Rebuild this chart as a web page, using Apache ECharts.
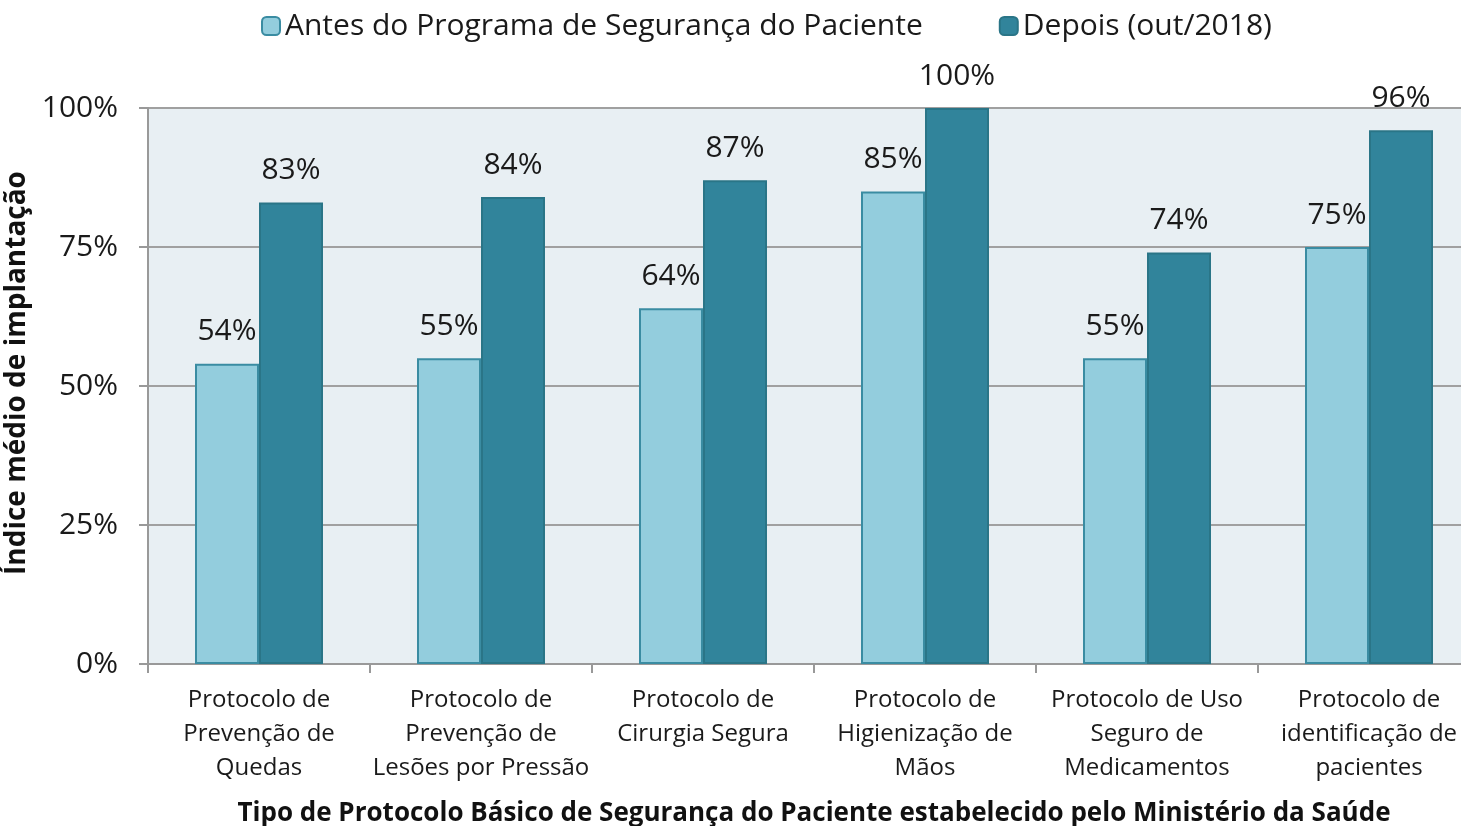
<!DOCTYPE html>
<html>
<head>
<meta charset="UTF-8">
<title>Protocolos de Segurança do Paciente</title>
<script src="https://cdn.jsdelivr.net/npm/echarts@6/dist/echarts.min.js"></script>
<style>
  body { margin: 0; background: #fff; }
  #chart { width: 1461px; height: 826px; }
</style>
</head>
<body>
<div id="chart"></div>
<script>
var categories = [
  'Protocolo de\nPrevenção de\nQuedas',
  'Protocolo de\nPrevenção de\nLesões por Pressão',
  'Protocolo de\nCirurgia Segura',
  'Protocolo de\nHigienização de\nMãos',
  'Protocolo de Uso\nSeguro de\nMedicamentos',
  'Protocolo de\nidentificação de\npacientes'
];
var antes = [54, 55, 64, 85, 55, 75];
var depois = [83, 84, 87, 100, 74, 96];
var seriesNames = ['Antes do Programa de Segurança do Paciente', 'Depois (out/2018)'];

var font = 'Open Sans';
var chart = echarts.init(document.getElementById('chart'));

function labelStyle() {
  return {
    show: true,
    position: 'top',
    distance: 17,
    formatter: '{c}%',
    color: '#1a1a1a',
    fontFamily: font,
    fontSize: 30
  };
}

chart.setOption({
  backgroundColor: '#ffffff',
  animation: false,
  legend: {
    top: 6,
    left: 256,
    itemWidth: 18,
    itemHeight: 18,
    itemGap: 76,
    textStyle: { fontFamily: font, fontSize: 30, color: '#1a1a1a' },
    data: seriesNames
  },
  grid: {
    left: 148,
    right: -19,
    top: 108,
    bottom: 162,
    outerBoundsMode: 'none',
    containLabel: false,
    show: true,
    backgroundColor: '#e8eff3',
    borderWidth: 0
  },
  xAxis: {
    type: 'category',
    data: categories,
    name: 'Tipo de Protocolo Básico de Segurança do Paciente estabelecido pelo Ministério da Saúde',
    nameLocation: 'middle',
    nameGap: 137,
    nameTextStyle: { fontFamily: font, fontSize: 26, fontWeight: 'bold', color: '#111' },
    axisLine: { lineStyle: { color: '#999999', width: 2 } },
    axisTick: { show: true, alignWithLabel: false, length: 9, lineStyle: { color: '#999999', width: 2 } },
    axisLabel: {
      interval: 0,
      margin: 19,
      lineHeight: 34,
      fontFamily: font,
      fontSize: 24,
      color: '#1a1a1a'
    }
  },
  yAxis: {
    type: 'value',
    min: 0,
    max: 100,
    interval: 25,
    name: 'Índice médio de implantação',
    nameLocation: 'middle',
    nameGap: 112,
    nameTextStyle: { fontFamily: font, fontSize: 28, fontWeight: 'bold', color: '#111', padding: [0, 0, 0, 26] },
    axisLine: { show: true, lineStyle: { color: '#999999', width: 2 } },
    axisTick: { show: true, length: 9, lineStyle: { color: '#999999', width: 2 } },
    axisLabel: {
      formatter: '{value}%',
      margin: 30,
      fontFamily: font,
      fontSize: 30,
      color: '#1a1a1a'
    },
    splitLine: { lineStyle: { color: '#a0a0a0', width: 2 } }
  },
  series: [
    {
      name: seriesNames[0],
      type: 'bar',
      data: antes,
      barWidth: 64,
      barGap: '0%',
      itemStyle: { color: '#93cddd', borderColor: '#3a8ca2', borderWidth: 2 },
      label: labelStyle()
    },
    {
      name: seriesNames[1],
      type: 'bar',
      data: depois,
      barWidth: 64,
      itemStyle: { color: '#31849b', borderColor: '#2a7587', borderWidth: 2 },
      label: labelStyle()
    }
  ]
});
</script>
</body>
</html>
